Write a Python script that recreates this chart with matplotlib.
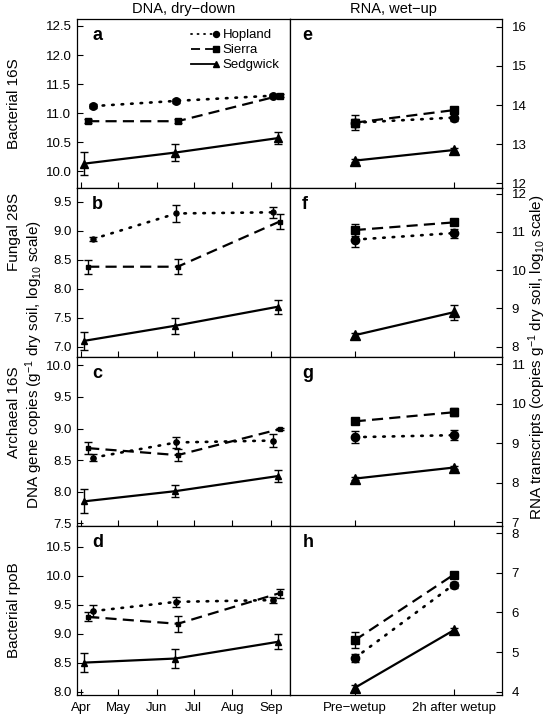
import matplotlib
matplotlib.use('Agg')
import matplotlib.pyplot as plt
import matplotlib.dates as mdates
from matplotlib.ticker import MultipleLocator, FormatStrFormatter
from matplotlib.lines import Line2D
from matplotlib.legend_handler import HandlerLine2D
import datetime

plt.rcParams['font.family'] = ['Liberation Sans', 'DejaVu Sans']
plt.rcParams['mathtext.fontset'] = 'custom'
plt.rcParams['mathtext.rm'] = 'Liberation Sans'
plt.rcParams['mathtext.it'] = 'Liberation Sans:italic'
plt.rcParams['mathtext.bf'] = 'Liberation Sans:bold'

# ---- data ----
sites = ['Hopland', 'Sierra', 'Sedgwick']
row_names = ['Bacterial 16S', 'Fungal 28S', 'Archaeal 16S', 'Bacterial rpoB']
dna_letters = ['a', 'b', 'c', 'd']
rna_letters = ['e', 'f', 'g', 'h']
wet_labels = ['Pre\u2212wetup', '2h after wetup']

hop_dates = ['2013-04-11', '2013-06-17', '2013-09-03']
sie_dates = ['2013-04-07', '2013-06-18', '2013-09-08']
sed_dates = ['2013-04-04', '2013-06-16', '2013-09-07']

# DNA dry-down (log10 gene copies), one list per row a-d
hop_dna = [[11.12, 11.21, 11.30], [8.86, 9.30, 9.32], [8.54, 8.78, 8.81], [9.39, 9.55, 9.58]]
hop_dna_err = [[0.03, 0.03, 0.02], [0.04, 0.15, 0.10], [0.06, 0.09, 0.10], [0.10, 0.09, 0.05]]
sie_dna = [[10.86, 10.86, 11.30], [8.38, 8.38, 9.16], [8.69, 8.58, 8.99], [9.29, 9.17, 9.70]]
sie_dna_err = [[0.03, 0.03, 0.02], [0.12, 0.13, 0.13], [0.10, 0.09, 0.02], [0.08, 0.14, 0.08]]
sed_dna = [[10.13, 10.32, 10.57], [7.10, 7.36, 7.69], [7.85, 8.01, 8.25], [8.50, 8.57, 8.86]]
sed_dna_err = [[0.20, 0.15, 0.10], [0.16, 0.14, 0.12], [0.19, 0.09, 0.09], [0.16, 0.17, 0.13]]

# RNA wet-up (log10 transcripts), one list per row e-h
hop_rna = [[13.55, 13.68], [10.80, 10.97], [9.15, 9.20], [4.85, 6.70]]
hop_rna_err = [[0.10, 0.08], [0.20, 0.12], [0.15, 0.12], [0.10, 0.08]]
sie_rna = [[13.55, 13.87], [11.05, 11.25], [9.55, 9.78], [5.30, 6.95]]
sie_rna_err = [[0.20, 0.06], [0.15, 0.08], [0.05, 0.10], [0.20, 0.05]]
sed_rna = [[12.58, 12.85], [8.30, 8.90], [8.10, 8.38], [4.10, 5.55]]
sed_rna_err = [[0.04, 0.04], [0.07, 0.20], [0.03, 0.03], [0.08, 0.07]]

dna_ylims = [(9.71, 12.62), (6.82, 9.74), (7.46, 10.13), (7.94, 10.86)]
rna_ylims = [(11.88, 16.2), (7.73, 12.15), (6.9, 11.18), (3.92, 8.18)]

# ---- styles ----
styles = {
    'Hopland': dict(ls=(0, (0.6, 3.0)), lw=1.9, marker='o', ms_scale=1.0, dash_capstyle='round'),
    'Sierra': dict(ls=(0, (5, 2.8)), lw=1.6, marker='s', ms_scale=0.9, dash_capstyle='butt'),
    'Sedgwick': dict(ls='-', lw=1.6, marker='^', ms_scale=1.15, dash_capstyle='butt'),
}
dna_ms = [5.4, 3.6, 3.8, 3.8]
rna_ms = [6.0, 6.0, 6.0, 6.0]

dna_dates = {
    'Hopland': [datetime.datetime.strptime(d, '%Y-%m-%d') for d in hop_dates],
    'Sierra': [datetime.datetime.strptime(d, '%Y-%m-%d') for d in sie_dates],
    'Sedgwick': [datetime.datetime.strptime(d, '%Y-%m-%d') for d in sed_dates],
}
dna_vals = {'Hopland': (hop_dna, hop_dna_err), 'Sierra': (sie_dna, sie_dna_err), 'Sedgwick': (sed_dna, sed_dna_err)}
rna_vals = {'Hopland': (hop_rna, hop_rna_err), 'Sierra': (sie_rna, sie_rna_err), 'Sedgwick': (sed_rna, sed_rna_err)}

W, H = 548, 716
fig = plt.figure(figsize=(W / 100, H / 100), dpi=100)
gs = fig.add_gridspec(4, 2, left=77 / W, right=502 / W, top=1 - 19 / H, bottom=1 - 695 / H,
                      hspace=0, wspace=0)


def draw(ax, xs, vals, errs, site, ms):
    st = styles[site]
    ax.errorbar(xs, vals, yerr=errs, color='k', linestyle=st['ls'], lw=st['lw'],
                marker=st['marker'], ms=ms * st['ms_scale'], mfc='k', mec='k',
                capsize=2.6, elinewidth=1.0, capthick=1.0, dash_capstyle=st['dash_capstyle'])


class EndMarker(HandlerLine2D):
    # marker only at the right end of the legend line
    def create_artists(self, *args, **kwargs):
        arts = super().create_artists(*args, **kwargs)
        for a in arts:
            a.set_markevery([len(a.get_xdata()) - 1])
        return arts


for r in range(4):
    axl = fig.add_subplot(gs[r, 0])
    axr = fig.add_subplot(gs[r, 1])

    for site in sites:
        v, e = dna_vals[site]
        draw(axl, dna_dates[site], v[r], e[r], site, dna_ms[r])
        v, e = rna_vals[site]
        draw(axr, [0, 1], v[r], e[r], site, rna_ms[r])

    # left (DNA) panel
    axl.set_ylim(dna_ylims[r])
    axl.set_xlim(datetime.datetime(2013, 3, 29), datetime.datetime(2013, 9, 16))
    axl.xaxis.set_major_locator(mdates.MonthLocator())
    axl.xaxis.set_major_formatter(mdates.DateFormatter('%b'))
    axl.yaxis.set_major_locator(MultipleLocator(0.5))
    axl.yaxis.set_major_formatter(FormatStrFormatter('%.1f'))
    axl.tick_params(direction='in', length=4, width=0.8, labelsize=9.5, pad=4)
    axl.tick_params(axis='x', pad=5)
    if r < 3:
        axl.tick_params(axis='x', labelbottom=False)
    axl.text(0.072, 0.905, dna_letters[r], transform=axl.transAxes, fontsize=13,
             fontweight='bold', ha='left', va='center')

    # right (RNA) panel
    axr.set_ylim(rna_ylims[r])
    axr.set_xlim(-0.66, 1.49)
    axr.set_xticks([0, 1])
    axr.set_xticklabels(wet_labels)
    axr.yaxis.set_major_locator(MultipleLocator(1))
    axr.yaxis.tick_right()
    axr.tick_params(direction='in', length=4, width=0.8, labelsize=9.5)
    axr.tick_params(axis='y', left=False, right=True, labelleft=False, labelright=True, pad=7)
    axr.tick_params(axis='x', pad=5)
    if r < 3:
        axr.tick_params(axis='x', labelbottom=False)
    axr.text(0.06, 0.905, rna_letters[r], transform=axr.transAxes, fontsize=13,
             fontweight='bold', ha='left', va='center')

    for ax in (axl, axr):
        for sp in ax.spines.values():
            sp.set_linewidth(0.9)

    if r == 0:
        handles = []
        for site in sites:
            st = styles[site]
            handles.append(Line2D([], [], color='k', linestyle=st['ls'], lw=1.3,
                                  marker=st['marker'], ms=4.3 * st['ms_scale'],
                                  dash_capstyle=st['dash_capstyle']))
        axl.legend(handles, sites, loc='upper right', frameon=False, fontsize=9.5,
                   handlelength=1.9, handletextpad=0.5, labelspacing=0.22,
                   borderaxespad=0.55, borderpad=0.2,
                   handler_map={Line2D: EndMarker()})

# row labels and shared axis labels
row_label_y = [104, 232, 412, 610]
for name, yy in zip(row_names, row_label_y):
    fig.text(14 / W, 1 - yy / H, name, rotation=90, ha='center', va='center', fontsize=11)

fig.text(34 / W, 1 - 365 / H, 'DNA gene copies (g$^{-1}$ dry soil, log$_{10}$ scale)',
         rotation=90, ha='center', va='center', fontsize=11)
fig.text(537 / W, 1 - 357 / H, 'RNA transcripts (copies g$^{-1}$ dry soil, log$_{10}$ scale)',
         rotation=90, ha='center', va='center', fontsize=11)

fig.text(184 / W, 1 - 9 / H, 'DNA, dry\u2212down', ha='center', va='center', fontsize=10.5)
fig.text(393 / W, 1 - 9 / H, 'RNA, wet\u2212up', ha='center', va='center', fontsize=10.5)

fig.savefig('out.png', dpi=100)
